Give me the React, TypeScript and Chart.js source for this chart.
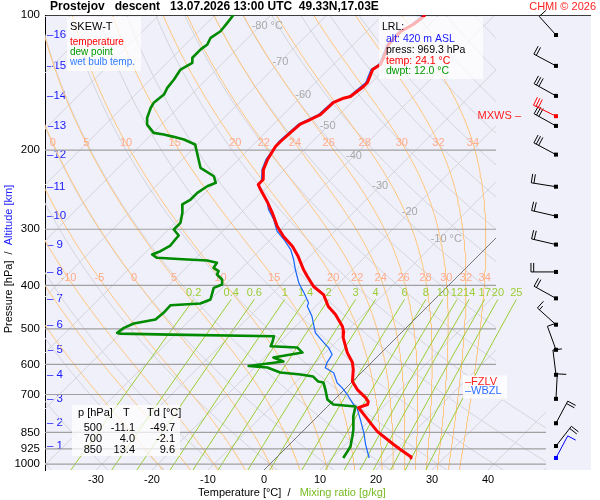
import React, { useEffect, useRef } from "react";
import { Chart, registerables } from "chart.js";

Chart.register(...registerables);

const FONT = "'Liberation Sans', Arial, sans-serif";

// ---------------- sounding data ----------------
const tempP = [100, 101.4, 105.0, 108.8, 116.3, 124.3, 128.9, 132.3, 141.4, 144.3, 151.9, 153.5, 156.6, 166.6, 170.9, 174.9, 182.6, 191.3, 196.3, 209.8, 220.9, 232.5, 238.5, 244.7, 261.6, 275.4, 295.8, 311.4, 327.8, 345.1, 368.8, 382.3, 402.4, 419.3, 445.9, 464.5, 494.1, 507.0, 522.9, 564.6, 594.2, 615.9, 655.1, 682.6, 711.1, 725.8, 737.0, 748.5, 784.0, 808.5, 846.6, 904.8, 928.4, 962.3, 969.3];
const tempT = [-52.5, -52.5, -52.9, -53.9, -53.75, -52.3, -51.6, -52.1, -50.7, -50.7, -51.25, -52.3, -53.2, -53.4, -54.3, -55.3, -55.5, -55.7, -55.7, -54.8, -53.75, -52.0, -52.0, -50.7, -47.1, -44.5, -41.1, -38.2, -34.8, -32.0, -28.75, -26.8, -23.9, -20.7, -17.7, -15.0, -11.6, -10.5, -9.5, -6.1, -3.4, -2.0, 0.0, 2.3, 5.2, 6.4, 6.8, 5.7, 8.6, 10.5, 13.4, 18.6, 20.7, 23.75, 24.1];

const dewP = [100, 104.1, 108.7, 112.4, 116.3, 119.3, 124.5, 127.8, 132.3, 139.2, 145.3, 150.4, 156.9, 160.9, 169.4, 175.4, 183.0, 184.6, 186.8, 189.4, 194.3, 202.7, 218.9, 228.6, 236.4, 240.6, 248.9, 257.6, 264.2, 275.7, 290.3, 300.4, 309.8, 316.2, 326.1, 335.8, 341.5, 347.3, 350.3, 352.1, 356.3, 365.6, 372.0, 378.4, 388.2, 398.3, 405.2, 430.1, 439.0, 442.9, 460.5, 476.6, 486.5, 497.4, 510.4, 512.3, 514.9, 519.4, 537.0, 546.6, 550.3, 564.6, 579.2, 591.2, 605.0, 609.7, 625.5, 632.0, 638.5, 655.1, 658.4, 682.6, 718.5, 737.0, 744.6, 784.0, 838.1, 868.6, 914.1, 937.9, 969.3];
const dewT = [-86.7, -86.4, -86.1, -86.7, -86.1, -86.4, -86.4, -85.5, -86.4, -85.8, -85.5, -84.9, -85.25, -84.9, -83.75, -82.55, -79.9, -77.8, -75.6, -73.3, -70.4, -68.6, -65.3, -61.4, -59.9, -60.8, -61.4, -61.4, -62.0, -60.5, -59.05, -59.05, -57.1, -57.0, -56.8, -57.55, -58.45, -57.0, -51.3, -47.55, -45.4, -45.1, -43.6, -43.3, -41.5, -40.6, -41.5, -40.0, -41.1, -46.1, -46.0, -46.25, -49.4, -50.4, -50.7, -50.0, -40.9, -22.1, -21.25, -20.9, -15.9, -14.1, -18.4, -15.9, -21.3, -17.7, -14.5, -10.5, -7.9, -6.1, -5.0, -3.4, -1.25, 0.7, 5.0, 6.4, 8.75, 9.8, 11.25, 11.6, 12.0];

const wbP = [100, 105.0, 108.8, 116.3, 124.3, 128.9, 132.3, 141.4, 151.9, 156.6, 166.6, 174.9, 191.3, 209.8, 220.9, 232.5, 240.6, 251.1, 262.0, 271.2, 285.4, 303.0, 316.2, 332.9, 350.3, 368.8, 394.9, 401.8, 415.6, 437.5, 445.3, 468.6, 489.1, 510.4, 541.9, 551.2, 570.4, 595.2, 610.6, 626.5, 642.7, 659.5, 676.6, 700.1, 737.0, 749.6, 796.0, 852.2, 904.8, 960.7, 969.3];
const wbT = [-52.8, -53.2, -54.2, -54.0, -52.6, -51.9, -52.4, -51.0, -51.5, -53.5, -53.7, -55.6, -56.0, -55.1, -54.0, -52.3, -51.6, -49.2, -47.1, -45.7, -43.0, -40.3, -37.6, -34.6, -32.3, -30.2, -27.2, -26.3, -24.5, -21.9, -21.5, -18.9, -17.1, -15.3, -11.4, -10.25, -8.45, -7.9, -7.3, -4.9, -3.7, -2.5, -0.7, 1.4, 4.3, 5.5, 8.2, 11.2, 13.6, 16.25, 16.6];

// altitude scale (km) and the pressure where each km mark sits
const altKm = [16, 15, 14, 13, 12, 11, 10, 9, 8, 7, 6, 5, 4, 3, 2, 1];
const altP = [110.8, 129.8, 151.4, 176.6, 204.6, 241.2, 280.5, 324.5, 373.4, 427.6, 489.4, 556.7, 632.8, 715.9, 811.2, 911.7];

// wind barbs
const windP = [110.8, 129.8, 151.4, 176.6, 204.6, 241.2, 280.5, 324.5, 373.4, 427.6, 489.4, 556.7, 632.8, 715.9, 811.2, 911.7, 969.3];
const windDir = [318, 298, 299, 299, 298, 279, 283, 283, 270, 299, 312, 340, 353, 3, 28, 38, 28];
const windKt = [10, 20, 30, 30, 30, 20, 20, 20, 20, 20, 15, 10, 10, 10, 20, 20, 10];
const mxwsP = 168;
const mxwsDir = 296;
const mxwsKt = 30;

// axes / diagram reference values
const xTicks = [-30, -20, -10, 0, 10, 20, 30, 40];
const pTicks = [100, 200, 300, 400, 500, 600, 700, 850, 925, 1000];
const isobarP = [200, 300, 400, 500, 600, 700, 850, 925, 1000];
const isothermT = [-120, -110, -100, -90, -80, -70, -60, -50, -40, -30, -20, -10, 10, 20, 30, 40, 50];
const dryThetaC = [-40, -30, -20, -10, 0, 10, 20, 30, 40, 50, 60, 70, 80, 90, 100, 110, 120, 130, 140, 150, 160, 170, 180, 190];
const thetaW = [-20, -15, -10, -5, 0, 5, 10, 15, 20, 22, 24, 26, 28, 30, 32, 34];
const thetaWLabelP = [193, 386];
const mixRatio = [0.2, 0.4, 0.6, 1, 1.4, 2, 3, 4, 6, 8, 10, 12, 14, 17, 20, 25];
const mixTopP = 430;
const isoLabelT = [-80, -70, -60, -50, -40, -30, -20, -10];
const isoLabelP = [106, 127, 150.5, 177, 206, 240, 275, 316];

// text tables
const tableP = ["500", "700", "850"];
const tableT = ["-11.1", "4.0", "13.4"];
const tableTd = ["-49.7", "-2.1", "9.6"];
const lrlAlt = "420";
const lrlPress = "969.3";
const lrlTemp = "24.1";
const lrlDwpt = "12.0";
const fzlvP = 655;
const wbzlP = 689;

// ---------------- skew-T geometry ----------------
const PTOP = 100;
const PBOT = 1031;
const SKEW = 449 / 5.6; // temperature units per pressure decade
const XMIN = -39.107;
const XMAX = 58.393;
const X_CLIP_UP = 41.43;
const X_CLIP_LOW = 50.36;
const P_CLIP = 720;
const BARB_X = 52.14;

const skewX = (T: number, p: number) => T + SKEW * Math.log10(PBOT / p);
const logLevels = (a: number, b: number, n: number) =>
  Array.from({ length: n + 1 }, (_, i) => a * Math.pow(b / a, i / n));

function moistCurve(thw: number) {
  const Rd = 287.04, Cp = 1005.7, Lv = 2.501e6, eps = 0.622;
  const f = (T: number, p: number) => {
    const es = 6.112 * Math.exp((17.67 * (T - 273.15)) / (T - 29.65));
    const rs = (eps * es) / Math.max(p - es, 1e-3);
    return (Rd * T + Lv * rs) / (p * (Cp + (Lv * Lv * rs * eps) / (Rd * T * T)));
  };
  const step = (T: number, p: number, dp: number) => {
    const k1 = f(T, p);
    const k2 = f(T + (k1 * dp) / 2, p + dp / 2);
    const k3 = f(T + (k2 * dp) / 2, p + dp / 2);
    const k4 = f(T + k3 * dp, p + dp);
    return T + (dp * (k1 + 2 * k2 + 2 * k3 + k4)) / 6;
  };
  const up: any[] = [];
  let T = thw + 273.15, p = 1000;
  up.push({ p, T });
  while (p > PTOP + 1e-6) {
    const dp = Math.max(-5, PTOP - p);
    T = step(T, p, dp);
    p += dp;
    up.push({ p, T });
  }
  const down: any[] = [];
  T = thw + 273.15; p = 1000;
  while (p < PBOT - 1e-6) {
    const dp = Math.min(5, PBOT - p);
    T = step(T, p, dp);
    p += dp;
    down.push({ p, T });
  }
  return [...down.reverse(), ...up].map((q) => ({ x: skewX(q.T - 273.15, q.p), y: q.p }));
}

function mixT(w: number, p: number) {
  const e = (w * p) / (622 + w);
  const l = Math.log(e / 6.112);
  return (243.5 * l) / (17.67 - l);
}

function xAtP(curve: any[], p: number) {
  for (let i = 0; i < curve.length - 1; i++) {
    const a = curve[i], b = curve[i + 1];
    if ((a.y - p) * (b.y - p) <= 0) {
      const t = (Math.log(p) - Math.log(a.y)) / (Math.log(b.y) - Math.log(a.y) || 1);
      return a.x + t * (b.x - a.x);
    }
  }
  return NaN;
}

const moistCurves: Record<number, any[]> = {};
thetaW.forEach((t) => (moistCurves[t] = moistCurve(t)));

// ---------------- datasets ----------------
const common = { showLine: true, pointRadius: 0, pointHoverRadius: 0, fill: false, tension: 0, xAxisID: "x", yAxisID: "y" };

function buildDatasets() {
  const ds: any[] = [];
  ds.push({ ...common, label: "temp", data: tempP.map((p, i) => ({ x: skewX(tempT[i], p), y: p })), borderColor: "#ff0000", borderWidth: 3, order: 0, borderJoinStyle: "round" });
  ds.push({ ...common, label: "dew", data: dewP.map((p, i) => ({ x: skewX(dewT[i], p), y: p })), borderColor: "#008a00", borderWidth: 2.6, order: 1, borderJoinStyle: "round" });
  ds.push({ ...common, label: "wb", data: wbP.map((p, i) => ({ x: skewX(wbT[i], p), y: p })), borderColor: "#1565ff", borderWidth: 1.2, order: 2 });

  // frame top (100 hPa)
  ds.push({ ...common, label: "top", data: [{ x: XMIN, y: PTOP }, { x: XMAX, y: PTOP }], borderColor: "#000000", borderWidth: 1.4, order: 3 });
  // 0 °C isotherm
  ds.push({ ...common, label: "iso0", zoneClip: true, data: [{ x: skewX(0, PTOP), y: PTOP }, { x: skewX(0, PBOT), y: PBOT }], borderColor: "#777777", borderWidth: 1, order: 3.5 });
  // isobars
  isobarP.forEach((p) => ds.push({ ...common, label: "isobar", zoneClip: true, data: [{ x: XMIN, y: p }, { x: XMAX, y: p }], borderColor: "#a0a0a0", borderWidth: 1.2, order: 4 }));
  // mixing ratio
  const mixLevels = logLevels(mixTopP, PBOT, 20);
  mixRatio.forEach((w) => ds.push({ ...common, label: "mix", data: mixLevels.map((p) => ({ x: skewX(mixT(w, p), p), y: p })), borderColor: "#9acd32", borderWidth: 1, order: 5 }));
  // pseudo-adiabats
  thetaW.forEach((t) => ds.push({ ...common, label: "moist", zoneClip: true, data: moistCurves[t], borderColor: "#ffc57a", borderWidth: 1, order: 6 }));
  // dry adiabats
  const dryLevels = logLevels(PTOP, PBOT, 40);
  dryThetaC.forEach((th) => ds.push({ ...common, label: "dry", zoneClip: true, data: dryLevels.map((p) => ({ x: skewX((th + 273.15) * Math.pow(p / 1000, 0.2857) - 273.15, p), y: p })), borderColor: "#d4d4dc", borderWidth: 1, order: 7 }));
  // isotherms
  isothermT.forEach((t) => ds.push({ ...common, label: "iso", zoneClip: true, data: [{ x: skewX(t, PTOP), y: PTOP }, { x: skewX(t, PBOT), y: PBOT }], borderColor: "#d4d4dc", borderWidth: 1, order: 7 }));
  return ds;
}

// ---------------- drawing helpers ----------------
function text(ctx: any, s: string, x: number, y: number, color: string, size = 11, align = "left", weight = "") {
  ctx.font = `${weight} ${size}px ${FONT}`.trim();
  ctx.fillStyle = color;
  ctx.textAlign = align;
  ctx.textBaseline = "middle";
  ctx.fillText(s, x, y);
}

function box(ctx: any, x: number, y: number, w: number, h: number, a = 0.72) {
  ctx.fillStyle = `rgba(255,255,255,${a})`;
  ctx.fillRect(x, y, w, h);
}

function drawBarb(ctx: any, x: number, y: number, dir: number, kt: number, color: string) {
  const L = 25, F = 9, gap = 2.7;
  const r = (dir * Math.PI) / 180;
  const ux = Math.sin(r), uy = -Math.cos(r);
  const px = -uy, py = ux;
  ctx.strokeStyle = color;
  ctx.fillStyle = color;
  ctx.lineWidth = 1;
  ctx.beginPath();
  ctx.moveTo(x, y);
  ctx.lineTo(x + ux * L, y + uy * L);
  let rem = Math.round(kt / 5) * 5;
  let pos = L;
  while (rem >= 10) {
    const bx = x + ux * pos, by = y + uy * pos;
    ctx.moveTo(bx, by);
    ctx.lineTo(bx + px * F, by + py * F);
    pos -= gap;
    rem -= 10;
  }
  if (rem >= 5) {
    const bx = x + ux * pos, by = y + uy * pos;
    ctx.moveTo(bx, by);
    ctx.lineTo(bx + px * F * 0.55, by + py * F * 0.55);
  }
  ctx.stroke();
  ctx.fillRect(x - 2, y - 2, 4, 4);
}

function drawDiagramLabels(chart: any) {
  const { ctx, scales } = chart;
  const xs = scales.x, ys = scales.y;
  ctx.save();
  // isotherm labels
  ctx.font = `11px ${FONT}`;
  isoLabelT.forEach((t, i) => {
    const p = isoLabelP[i];
    const s = String(t);
    ctx.font = `11px ${FONT}`;
    const w = ctx.measureText(s).width;
    const px = xs.getPixelForValue(skewX(t, p));
    const suffix = i === 0 || i === isoLabelT.length - 1 ? " °C" : "";
    text(ctx, s + suffix, px - w / 2, ys.getPixelForValue(p), "#a9a9a9", 11, "left");
  });
  // pseudo-adiabat labels
  thetaWLabelP.forEach((p) => {
    thetaW.forEach((t) => {
      const px = xs.getPixelForValue(xAtP(moistCurves[t], p));
      if (!(px > 50 && px < 492)) return;
      text(ctx, String(t), px, ys.getPixelForValue(p), "#ffab8a", 11, "center");
    });
  });
  // mixing ratio labels
  mixRatio.forEach((w) => {
    const px = xs.getPixelForValue(skewX(mixT(w, mixTopP), mixTopP));
    text(ctx, String(w), px, ys.getPixelForValue(mixTopP) - 6, "#9acd32", 11, "center");
  });
  ctx.restore();
}

const diagramPlugin = {
  id: "skewtDiagram",
  beforeDraw(chart: any) {
    const { ctx, chartArea: a } = chart;
    ctx.save();
    ctx.fillStyle = "#ffffff";
    ctx.fillRect(0, 0, chart.width, chart.height);
    ctx.fillStyle = "#f0f0fb";
    ctx.fillRect(a.left, a.top, a.right - a.left, a.bottom - a.top);
    ctx.restore();
  },
  beforeDatasetDraw(chart: any, args: any) {
    const ds = chart.data.datasets[args.index];
    if (ds.label === "wb") drawDiagramLabels(chart);
    if (ds.zoneClip) {
      const { ctx, chartArea: a, scales } = chart;
      const x1 = scales.x.getPixelForValue(X_CLIP_UP);
      const x2 = scales.x.getPixelForValue(X_CLIP_LOW);
      const yb = scales.y.getPixelForValue(P_CLIP);
      ctx.save();
      ctx.beginPath();
      ctx.rect(a.left, a.top, x1 - a.left, a.bottom - a.top);
      ctx.rect(x1, yb, x2 - x1, a.bottom - yb);
      ctx.clip();
    }
  },
  afterDatasetDraw(chart: any, args: any) {
    const ds = chart.data.datasets[args.index];
    if (ds.zoneClip) chart.ctx.restore();
  },
  afterDatasetsDraw(chart: any) {
    const { ctx, scales } = chart;
    const xs = scales.x, ys = scales.y;
    ctx.save();
    // legend box
    box(ctx, 67, 17, 74, 54);
    text(ctx, "SKEW-T", 70, 27, "#000000", 11);
    text(ctx, "temperature", 70, 42, "#ff0000", 10);
    text(ctx, "dew point", 70, 52, "#009a00", 10);
    text(ctx, "wet bulb temp.", 70, 62, "#2f7bff", 10);

    // LRL box
    box(ctx, 379, 17, 104, 62, 0.7);
    text(ctx, "LRL:", 382, 27, "#000000", 10.5);
    text(ctx, `alt: ${lrlAlt} m ASL`, 386, 39, "#1a1aff", 10.5);
    text(ctx, `press: ${lrlPress} hPa`, 386, 50, "#000000", 10.5);
    text(ctx, `temp: ${lrlTemp} °C`, 386, 61, "#ff0000", 10.5);
    text(ctx, `dwpt: ${lrlDwpt} °C`, 386, 71, "#009a00", 10.5);

    // table box
    box(ctx, 72, 405, 108, 51, 0.72);
    text(ctx, "p [hPa]", 78, 413, "#000000", 11);
    text(ctx, "T", 123, 413, "#000000", 11);
    text(ctx, "Td [°C]", 147, 413, "#000000", 11);
    tableP.forEach((s, i) => {
      const yy = 428 + i * 11;
      text(ctx, s, 102, yy, "#000000", 11, "right");
      text(ctx, tableT[i], 135, yy, "#000000", 11, "right");
      text(ctx, tableTd[i], 175, yy, "#000000", 11, "right");
    });

    // freezing level / wet bulb zero level markers
    const yF = ys.getPixelForValue(fzlvP);
    const yW = ys.getPixelForValue(wbzlP);
    box(ctx, 463, yF - 6, 44, 11, 0.85);
    text(ctx, "–FZLV", 465, yF, "#ff2020", 11);
    box(ctx, 463, yW - 5, 44, 12, 0.85);
    text(ctx, "–WBZL", 465, yW, "#2f6fff", 11);

    // max wind marker
    text(ctx, "MXWS –", 521, ys.getPixelForValue(mxwsP), "#ff2020", 11, "right");

    // wind barbs
    const bx = xs.getPixelForValue(BARB_X);
    windP.forEach((p, i) => {
      const col = i === windP.length - 1 ? "#0000ff" : "#000000";
      drawBarb(ctx, bx, ys.getPixelForValue(p), windDir[i], windKt[i], col);
    });
    drawBarb(ctx, bx, ys.getPixelForValue(mxwsP), mxwsDir, mxwsKt, "#ff0000");
    ctx.restore();
  },
  afterDraw(chart: any) {
    const { ctx } = chart;
    ctx.save();
    text(ctx, "Prostejov   descent   13.07.2026 13:00 UTC  49.33N,17.03E", 50, 7, "#000000", 12, "left", "bold");
    text(ctx, "CHMI © 2026", 596, 7, "#ff2020", 11, "right");

    // x-axis title
    ctx.font = `11px ${FONT}`;
    const s1 = "Temperature [°C]", s2 = "  /   ", s3 = "Mixing ratio [g/kg]";
    const w1 = ctx.measureText(s1).width, w2 = ctx.measureText(s2).width, w3 = ctx.measureText(s3).width;
    let x0 = 292 - (w1 + w2 + w3) / 2;
    text(ctx, s1, x0, 493, "#000000", 11);
    text(ctx, s2, x0 + w1, 493, "#000000", 11);
    text(ctx, s3, x0 + w1 + w2, 493, "#77bb22", 11);

    // y-axis title (rotated)
    const t1 = "Pressure [hPa]", t2 = "  /  ", t3 = "Altitude [km]";
    ctx.font = `11px ${FONT}`;
    const v1 = ctx.measureText(t1).width, v2 = ctx.measureText(t2).width, v3 = ctx.measureText(t3).width;
    ctx.translate(9, 259);
    ctx.rotate(-Math.PI / 2);
    let y0 = -(v1 + v2 + v3) / 2;
    text(ctx, t1, y0, 0, "#000000", 11);
    text(ctx, t2, y0 + v1, 0, "#000000", 11);
    text(ctx, t3, y0 + v1 + v2, 0, "#1a1aff", 11);
    ctx.restore();
  },
};

export default function App() {
  const ref = useRef<HTMLCanvasElement>(null);
  useEffect(() => {
    document.body.style.margin = "0";
    const canvas = ref.current;
    if (!canvas) return;
    const chart = new Chart(canvas, {
      type: "scatter",
      data: { datasets: buildDatasets() },
      options: {
        animation: false,
        responsive: false,
        maintainAspectRatio: false,
        devicePixelRatio: 1,
        events: [],
        layout: { padding: { top: 15, right: 9, left: 0, bottom: 0 } },
        plugins: { legend: { display: false }, tooltip: { enabled: false }, title: { display: false } },
        scales: {
          x: {
            type: "linear",
            position: "bottom",
            min: XMIN,
            max: XMAX,
            grid: { display: false, drawTicks: false },
            border: { display: false },
            ticks: { color: "#000000", font: { family: FONT, size: 11 }, padding: 3, autoSkip: false, maxRotation: 0, callback: (v: any) => String(v) },
            afterBuildTicks: (s: any) => { s.ticks = xTicks.map((v) => ({ value: v })); },
            afterFit: (s: any) => { s.height = 30; },
          },
          y: {
            type: "logarithmic",
            position: "left",
            reverse: true,
            min: PTOP,
            max: PBOT,
            weight: 1,
            grid: { display: false, drawTicks: false },
            border: { display: true, color: "#000000", width: 1 },
            ticks: { color: "#000000", font: { family: FONT, size: 11.5 }, padding: 5, autoSkip: false, callback: (v: any) => String(v) },
            afterBuildTicks: (s: any) => { s.ticks = pTicks.map((v) => ({ value: v })); },
            afterFit: (s: any) => { s.width = 45; },
          },
          yAlt: {
            type: "logarithmic",
            position: "left",
            reverse: true,
            min: PTOP,
            max: PBOT,
            weight: 0,
            grid: { display: false, drawTicks: false },
            border: { display: false },
            ticks: {
              mirror: true,
              color: "#1a1aff",
              font: { family: FONT, size: 11.5 },
              padding: 2,
              autoSkip: false,
              callback: (_v: any, i: number) => (altKm[i] >= 10 ? "–" : "– ") + String(altKm[i]),
            },
            afterBuildTicks: (s: any) => { s.ticks = altP.map((v) => ({ value: v })); },
            afterFit: (s: any) => { s.width = 0; },
          },
        },
      } as any,
      plugins: [diagramPlugin as any],
    });
    return () => chart.destroy();
  }, []);
  return (
    <div style={{ width: 600, height: 500 }}>
      <canvas ref={ref} width={600} height={500} style={{ display: "block" }} />
    </div>
  );
}
